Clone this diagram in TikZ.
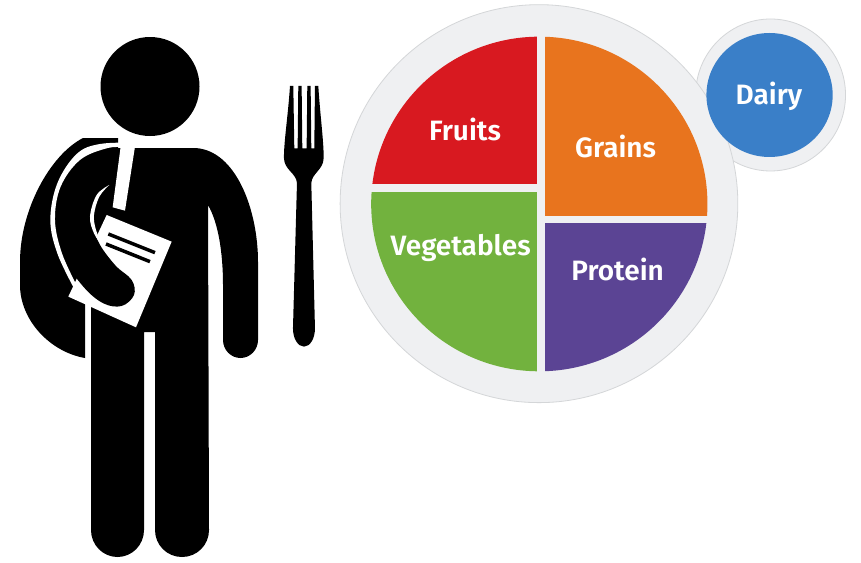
\documentclass[tikz,border=0pt]{standalone}
\usepackage{fontspec}
\setmainfont{Fira Sans}
\newfontfamily\labelfont[UprightFont=* SemiBold]{Fira Sans}
\definecolor{fruitc}{HTML}{D81920}
\definecolor{grainc}{HTML}{E8741E}
\definecolor{vegc}{HTML}{72B23E}
\definecolor{protc}{HTML}{5B4494}
\definecolor{dairyc}{HTML}{3A7FC8}
\definecolor{platec}{HTML}{EFF0F2}
\definecolor{rimc}{HTML}{D4D6D8}
\tikzset{
  figz/.style={x=0.3333pt,y=-0.3333pt,shift={(0pt,-20pt)}},
  platez/.style={x=0.3376pt,y=-0.3333pt,shift={(330pt,0pt)}},
  foodlabel/.style={text=white,font=\labelfont\fontsize{28}{28}\selectfont,inner sep=0pt,anchor=center}
}
\begin{document}
\begin{tikzpicture}[x=1pt,y=-1pt]
\useasboundingbox (0,0) rectangle (861,562);
\fill[white] (0,0) rectangle (861,562);
% head
\fill[black] (150,86.5) circle[radius=49.5];
% backpack
\fill[black] (118,138) -- (83,138) .. controls (50,155) and (20,210) .. (20,262)
  -- (20,285) .. controls (20,320) and (50,352) .. (85,358) -- (85,300) -- (118,160) -- cycle;
% body, legs and right arm
\fill[black] (118,148) -- (195,148) .. controls (236,150) and (258,210) .. (258,262)
  -- (258,340) .. controls (258,350) and (250,358) .. (240.5,358)
  .. controls (231,358) and (223,350) .. (223,340)
  -- (223,285) .. controls (223,252) and (218,222) .. (208,205)
  -- (209,530) .. controls (209,545) and (197,557) .. (182,557)
  .. controls (167,557) and (155,545) .. (155,530)
  -- (155,332) -- (144,332)
  -- (144,530) .. controls (144,545) and (132,557) .. (117.5,557)
  .. controls (103,557) and (91,545) .. (91,530)
  -- (91,300) -- (70,200) -- cycle;
\begin{scope}[figz]
  % strap
  \fill[white] (362,380) -- (405,380) -- (375,572) -- (338,562) -- cycle;
  % paper
  \fill[white] (320,585) -- (515,665) -- (408,922) -- (205,830) -- cycle;
  \draw[black,line width=3.5pt] (325,642) -- (465,698);
  \draw[black,line width=3.5pt] (318,672) -- (450,725);
  % forearm
  \fill[black] plot[smooth,tension=.6] coordinates {(200,480) (168,600) (190,710) (250,800) (310,850) (365,858) (402,825) (395,780) (345,735) (295,665) (276,590) (300,520) (320,480)} -- cycle;
  % long white curve
  \fill[white] plot[smooth,tension=.6] coordinates {(410,368) (300,372) (230,402) (172,490) (151,600) (172,700) (222,805)}
    -- (235,800) -- plot[smooth,tension=.6] coordinates {(232,800) (186,700) (165,600) (182,500) (240,420) (320,385) (380,380) (410,372)} -- cycle;
  % small white curve
  \fill[white] plot[smooth,tension=.6] coordinates {(328,495) (290,525) (270,590) (282,640) (305,675)}
    -- plot[smooth,tension=.6] coordinates {(305,670) (288,630) (282,585) (298,530) (328,495)} -- cycle;
  % fork
  \fill[black] (870,198) -- (880,198) -- (883,385) -- (893,385) -- (895,198) -- (905,198) -- (907,385) -- (920,385)
    -- (922,198) -- (932,198) -- (934,385) -- (943,385) -- (945,198) -- (955,198)
    .. controls (960,280) and (972,370) .. (971,415)
    .. controls (970,450) and (935,460) .. (934,490)
    -- (945,925) .. controls (945,956) and (930,980) .. (912,980)
    .. controls (894,980) and (879,956) .. (879,925)
    -- (891,490) .. controls (890,460) and (853,450) .. (852,415)
    .. controls (851,370) and (865,280) .. (870,198) -- cycle;
\end{scope}
\begin{scope}[platez]
  % side dish and plate
  \fill[platec,draw=rimc,line width=.8pt] (1305,285) circle[x radius=222,y radius=-228];
  \fill[platec,draw=rimc,line width=.8pt] (619,611) circle[x radius=589,y radius=-597];
  \fill[platec] (1205,330) -- (1100,200) -- (1160,430) -- cycle;
  \fill[dairyc] (1302,285) circle[x radius=187,y radius=-186];
  % food groups
  \begin{scope}
    \clip (620,612) circle[x radius=498,y radius=-502];
    \fill[fruitc] (0,0) rectangle (613,553);
    \fill[grainc] (637,0) rectangle (1200,648);
    \fill[vegc] (0,575) rectangle (613,1200);
    \fill[protc] (637,670) rectangle (1200,1200);
  \end{scope}
  \node[foodlabel] (fruits) at (400,388) {Fruits};
  \node[foodlabel] (grains) at (846,438) {Grains};
  \node[foodlabel] (vegetables) at (387,743) {Vegetables};
  \node[foodlabel] (protein) at (852,808) {Protein};
  \node[foodlabel] (dairy) at (1300,288) {Dairy};
\end{scope}
\end{tikzpicture}
\end{document}
